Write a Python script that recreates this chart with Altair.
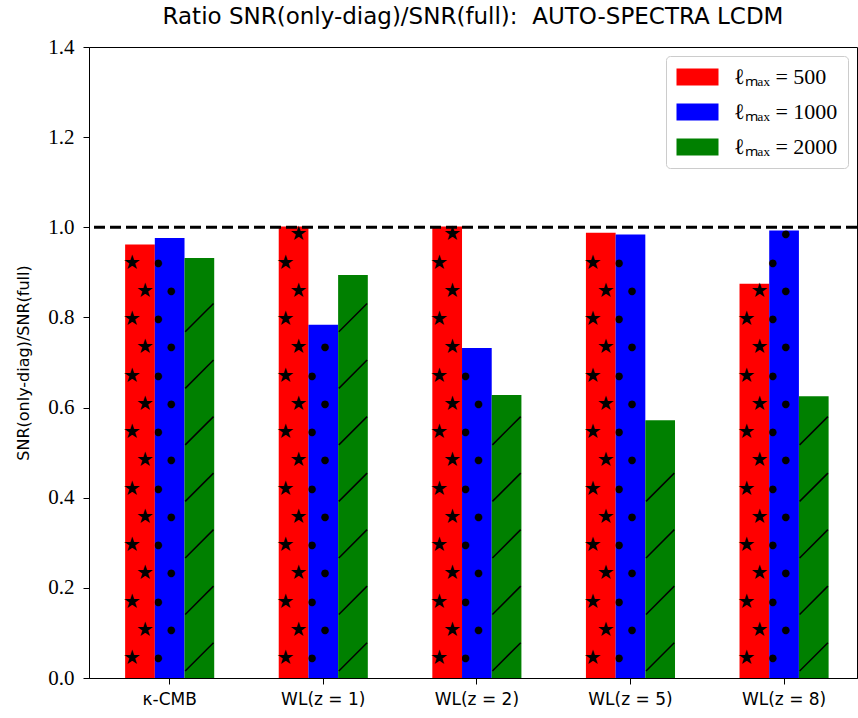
import altair as alt
import pandas as pd

# ---- data ----
categories = ["κ-CMB", "WL(z = 1)", "WL(z = 2)", "WL(z = 5)", "WL(z = 8)"]
series = ["ℓₘₐₓ = 500", "ℓₘₐₓ = 1000", "ℓₘₐₓ = 2000"]
lmax500 = [0.962, 1.002, 1.002, 0.988, 0.875]
lmax1000 = [0.976, 0.784, 0.732, 0.984, 0.993]
lmax2000 = [0.932, 0.894, 0.628, 0.572, 0.625]
colors = ["#ff0000", "#0000ff", "#008000"]
y_ticks = [0.0, 0.2, 0.4, 0.6, 0.8, 1.0, 1.2, 1.4]
reference_level = 1.0

# ---- table for the bars ----
values = [lmax500, lmax1000, lmax2000]
bars = pd.DataFrame(
    [
        {"cat": c, "series": s, "ratio": vals[ci]}
        for s, vals in zip(series, values)
        for ci, c in enumerate(categories)
    ]
)

# ---- hatch texture (decoration inside each bar, in data units) ----
HATCH_ROW = 0.0627
hatch = []
for s, vals, kind in zip(series, values, ["star", "dot", "slash"]):
    for ci, c in enumerate(categories):
        v = vals[ci]
        if kind == "slash":
            k = 0
            while 0.047 + k * 2 * HATCH_ROW + 0.033 <= v:
                hatch.append({"cat": c, "series": s, "y": 0.047 + k * 2 * HATCH_ROW,
                              "kind": kind, "par": "A"})
                k += 1
        else:
            half = 0.014 if kind == "star" else 0.007
            k = 0
            while 0.044 + k * HATCH_ROW + half <= v:
                hatch.append({"cat": c, "series": s, "y": 0.044 + k * HATCH_ROW,
                              "kind": kind, "par": "A" if k % 2 == 0 else "B"})
                k += 1
hatch = pd.DataFrame(hatch)

x_enc = alt.X(
    "cat:N",
    sort=categories,
    scale=alt.Scale(domain=categories, paddingInner=0.42, paddingOuter=0.21, align=0.56),
    axis=alt.Axis(title=None, labelAngle=0, labelFontSize=17, labelFont="DejaVu Sans",
                  labelColor="black", labelPadding=7, tickSize=6, tickColor="black",
                  domainColor="black"),
)
xo_enc = alt.XOffset("series:N", sort=series, scale=alt.Scale(domain=series, paddingInner=0))
y_enc = alt.Y(
    "ratio:Q",
    scale=alt.Scale(domain=[0, 1.4], nice=False, zero=True),
    axis=alt.Axis(title="SNR(only-diag)/SNR(full)", values=y_ticks, format=".1f",
                  labelFont="Liberation Serif", labelFontSize=21, labelColor="black",
                  labelPadding=9,
                  titleFont="DejaVu Sans", titleFontSize=16, titleFontWeight="normal",
                  titleColor="black", titlePadding=16, tickSize=6, tickColor="black",
                  domainColor="black", grid=False),
)

bar_layer = alt.Chart(bars).mark_bar().encode(
    x=x_enc,
    xOffset=xo_enc,
    y=y_enc,
    color=alt.Color("series:N", sort=series,
                    scale=alt.Scale(domain=series, range=colors),
                    legend=alt.Legend(title=None)),
)

base_h = alt.Chart(hatch).encode(
    x=alt.X("cat:N", sort=categories),
    xOffset=alt.XOffset("series:N", sort=series),
    y=alt.Y("y:Q"),
)

star_style = dict(text="★", font="DejaVu Sans", fontSize=20, color="black",
                  align="center", baseline="middle")
dot_style = dict(text="●", font="DejaVu Sans", fontSize=10, color="black",
                 align="center", baseline="middle")

stars_a = base_h.transform_filter("datum.kind == 'star' && datum.par == 'A'").mark_text(
    dx=-8, **star_style)
stars_b = base_h.transform_filter("datum.kind == 'star' && datum.par == 'B'").mark_text(
    dx=5, **star_style)
dots_a = base_h.transform_filter("datum.kind == 'dot' && datum.par == 'A'").mark_text(
    dx=-11, **dot_style)
dots_b = base_h.transform_filter("datum.kind == 'dot' && datum.par == 'B'").mark_text(
    dx=2, **dot_style)
slashes = base_h.transform_filter("datum.kind == 'slash'").mark_point(
    shape="M-1,1L1,-1", size=800, filled=False, color="black", strokeWidth=1.5, opacity=1)

ref_line = alt.Chart(pd.DataFrame({"level": [reference_level]})).mark_rule(
    color="black", strokeWidth=3, strokeDash=[11, 5]
).encode(y=alt.Y("level:Q"))

chart = alt.layer(
    bar_layer, stars_a, stars_b, dots_a, dots_b, slashes, ref_line
).properties(
    width=768,
    height=631,
    title=alt.TitleParams(
        "Ratio SNR(only-diag)/SNR(full): \u00a0AUTO-SPECTRA LCDM",
        font="DejaVu Sans", fontSize=23, fontWeight="normal", color="black",
        anchor="middle", offset=7,
    ),
    autosize=alt.AutoSizeParams(type="none"),
    padding={"left": 89, "top": 47, "right": 1, "bottom": 40},
).configure_view(
    stroke="black", strokeWidth=1
).configure_legend(
    orient="top-right",
    offset=9,
    padding=10,
    strokeColor="#cccccc",
    fillColor="white",
    cornerRadius=4,
    symbolType="M-1,-0.81L3,-0.81L3,0.81L-1,0.81Z",
    symbolSize=441,
    symbolStrokeWidth=0,
    symbolOpacity=1,
    labelFont="Liberation Serif",
    labelFontSize=22,
    labelColor="black",
    rowPadding=13,
    labelOffset=36,
)

chart.save("out.html", embed_options={"renderer": "svg", "actions": False})
